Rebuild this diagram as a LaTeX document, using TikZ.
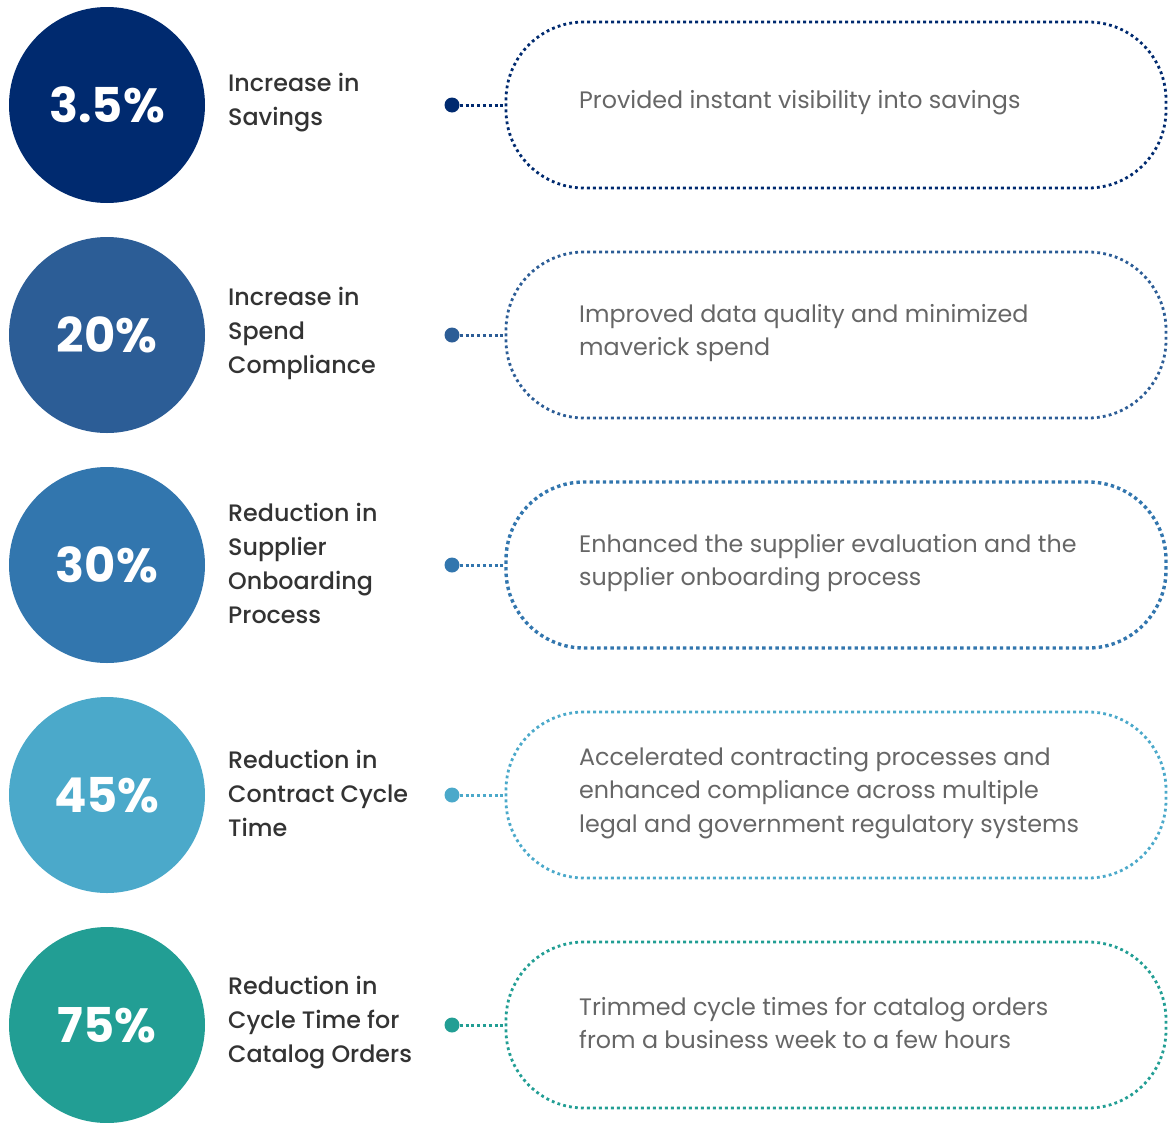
\documentclass[tikz,border=0pt]{standalone}
\usepackage{fontspec}
\setmainfont{Poppins}
\IfFontExistsTF{Poppins Medium}{\newfontfamily\labfont{Poppins Medium}}{\newfontfamily\labfont{Poppins}}
\definecolor{cA}{HTML}{002A6F}
\definecolor{cB}{HTML}{2C5D96}
\definecolor{cC}{HTML}{3276AE}
\definecolor{cD}{HTML}{4BA9CA}
\definecolor{cE}{HTML}{229E94}
\definecolor{labgray}{HTML}{333333}
\definecolor{descgray}{HTML}{666666}
\tikzset{
  bigcirc/.style={circle, minimum size=196pt, inner sep=0pt, text=white, font=\bfseries\fontsize{48}{50}\selectfont},
  labtext/.style={anchor=west, inner sep=0pt, align=left, text=labgray, font=\labfont\fontsize{23.8}{34}\selectfont},
  desctext/.style={anchor=west, inner sep=0pt, align=left, text=descgray, font=\fontsize{23.8}{33.5}\selectfont},
  pill/.style={minimum width=660pt, minimum height=166pt, rounded corners=78pt, inner sep=0pt, line width=2.8pt, dash pattern=on 2.8pt off 3.2pt},
  boldpill/.style={line width=3.4pt, dash pattern=on 3.4pt off 3.2pt},
  enddot/.style={circle, minimum size=15pt, inner sep=0pt},
  link/.style={line width=3pt, dash pattern=on 3pt off 2.8pt}
}
\newcommand\makerow[7][]{%
  \node[bigcirc, fill=#4] (c#2) at (107,#3) {#5};
  \node[labtext] (l#2) at (228,#3-2) {#6};
  \node[pill, draw=#4, #1] (p#2) at (836,#3) {};
  \node[desctext] (d#2) at (579,#3-2) {#7};
  \node[enddot, fill=#4] (e#2) at (452,#3) {};
  \draw[link, draw=#4] (e#2.east) -- (p#2.west);
}
\begin{document}
\begin{tikzpicture}[x=1pt,y=-1pt]
\useasboundingbox (0,0) rectangle (1172,1122);
\makerow{1}{105}{cA}{3.5\%}{Increase in\\Savings}{Provided instant visibility into savings}
\makerow{2}{335}{cB}{20\%}{Increase in\\Spend\\Compliance}{Improved data quality and minimized\\maverick spend}
\makerow[boldpill]{3}{565}{cC}{30\%}{Reduction in\\Supplier\\Onboarding\\Process}{Enhanced the supplier evaluation and the\\supplier onboarding process}
\makerow{4}{795}{cD}{45\%}{Reduction in\\Contract Cycle\\Time}{Accelerated contracting processes and\\enhanced compliance across multiple\\legal and government regulatory systems}
\makerow{5}{1025}{cE}{75\%}{Reduction in\\Cycle Time for\\Catalog Orders}{Trimmed cycle times for catalog orders\\from a business week to a few hours}
\end{tikzpicture}
\end{document}
